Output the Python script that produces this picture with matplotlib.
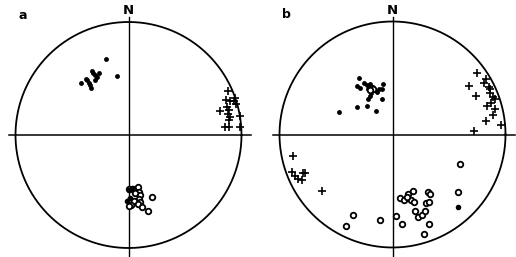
import numpy as np
import matplotlib.pyplot as plt

# positions in units of the net radius (x = east, y = north)
# panel a
a_dots_x = [-0.20, -0.10, -0.42, -0.38, -0.35, -0.33, -0.31, -0.30, -0.28, -0.30, -0.34, -0.32, -0.26, -0.37]
a_dots_y = [0.67, 0.52, 0.46, 0.50, 0.46, 0.42, 0.55, 0.53, 0.51, 0.49, 0.44, 0.57, 0.55, 0.49]
a_cross_x = [0.88, 0.94, 0.86, 0.90, 0.93, 0.81, 0.87, 0.89, 0.88, 0.90, 0.99, 0.89, 0.85, 0.89, 0.99, 0.95]
a_cross_y = [0.39, 0.33, 0.31, 0.30, 0.30, 0.21, 0.25, 0.22, 0.19, 0.16, 0.17, 0.13, 0.07, 0.07, 0.07, 0.27]
a_open_x = [-0.00, 0.04, 0.08, 0.09, 0.10, 0.09, 0.00, 0.02, 0.05, 0.02, 0.00, 0.10, 0.08, 0.12, 0.17, 0.21, 0.06]
a_open_y = [-0.48, -0.48, -0.46, -0.50, -0.53, -0.57, -0.58, -0.59, -0.58, -0.62, -0.63, -0.59, -0.61, -0.64, -0.67, -0.55, -0.51]
a_fill_x = [-0.01, 0.01, -0.00, 0.03]
a_fill_y = [-0.58, -0.56, -0.49, -0.47]

# panel b
b_dots_x = [-0.30, -0.31, -0.29, -0.25, -0.23, -0.22, -0.20, -0.16, -0.14, -0.12, -0.22, -0.19,
            -0.09, -0.08, -0.15, -0.23, -0.31, -0.47, -0.20, -0.09]
b_dots_y = [0.50, 0.43, 0.41, 0.46, 0.44, 0.40, 0.45, 0.39, 0.38, 0.40, 0.31, 0.37,
            0.31, 0.45, 0.21, 0.25, 0.24, 0.20, 0.34, 0.40]
b_ring_x = [-0.18, -0.17, -0.20]
b_ring_y = [0.41, 0.40, 0.39]
b_cross_x = [0.75, 0.83, 0.68, 0.85, 0.74, 0.86, 0.89, 0.91, 0.87, 0.84, 0.91, 0.89, 0.83, 0.96, 0.72, 0.81, 0.86,
             -0.88, -0.89, -0.84, -0.80, -0.79, -0.77, -0.62, -0.86]
b_cross_y = [0.54, 0.49, 0.43, 0.42, 0.34, 0.37, 0.33, 0.31, 0.28, 0.25, 0.23, 0.17, 0.12, 0.08, 0.03, 0.46, 0.40,
             -0.19, -0.33, -0.39, -0.40, -0.34, -0.34, -0.50, -0.37]
b_open_x = [0.60, 0.58, -0.35, -0.41, -0.11, 0.03, 0.08, 0.07, 0.10, 0.14, 0.18, 0.16, 0.19,
            0.31, 0.33, 0.30, 0.32, 0.20, 0.23, 0.26, 0.29, 0.32, 0.13, 0.28]
b_open_y = [-0.26, -0.51, -0.71, -0.81, -0.76, -0.72, -0.79, -0.56, -0.58, -0.53, -0.50, -0.58, -0.60,
            -0.51, -0.53, -0.61, -0.60, -0.68, -0.73, -0.71, -0.68, -0.79, -0.55, -0.88]
b_fill_x = [0.58]
b_fill_y = [-0.64]

panels = [
    ("a", (128.5, 135.0), a_dots_x, a_dots_y, a_cross_x, a_cross_y, a_open_x, a_open_y,
     a_fill_x, a_fill_y, [], []),
    ("b", (392.5, 134.5), b_dots_x, b_dots_y, b_cross_x, b_cross_y, b_open_x, b_open_y,
     b_fill_x, b_fill_y, b_ring_x, b_ring_y),
]

W, H = 516, 257
R = 113.0   # net radius in pixels
L = 1.14

fig = plt.figure(figsize=(W / 100, H / 100), dpi=100)

for label, (cx, cy), dx, dy, crx, cry, ox, oy, fx, fy, rx, ry in panels:
    ax = fig.add_axes([(cx - L * R) / W, (H - cy - L * R) / H, 2 * L * R / W, 2 * L * R / H])
    ax.set_xlim(-L, L)
    ax.set_ylim(-L, L)
    ax.axis("off")

    t = np.linspace(0, 2 * np.pi, 400)
    ax.plot(np.cos(t), np.sin(t), color="black", lw=1.3, clip_on=False)
    ax.plot([-1.06, 1.08], [0, 0], color="black", lw=1.1, clip_on=False)
    ax.plot([0, 0], [1.04, -1.10], color="black", lw=1.0, clip_on=False)

    ax.plot(dx, dy, "o", color="black", ms=3.5, mew=0, clip_on=False)
    ax.plot(crx, cry, "+", color="black", ms=5.5, mew=1.2, clip_on=False)
    ax.plot(ox, oy, "o", mfc="white", mec="black", ms=4.0, mew=1.3, clip_on=False)
    ax.plot(fx, fy, "o", color="black", ms=4.0, mew=0, clip_on=False)
    if rx:
        ax.plot(rx, ry, "o", mfc="white", mec="black", ms=4.0, mew=1.3, clip_on=False)

    ax.text(0, 1.10, "N", ha="center", va="center", fontsize=9.5, fontweight="bold",
            family="DejaVu Sans", clip_on=False)
    ax.text(-0.94, 1.06, label, ha="center", va="center", fontsize=9, fontweight="bold",
            clip_on=False)

fig.savefig("out.png", dpi=100)
